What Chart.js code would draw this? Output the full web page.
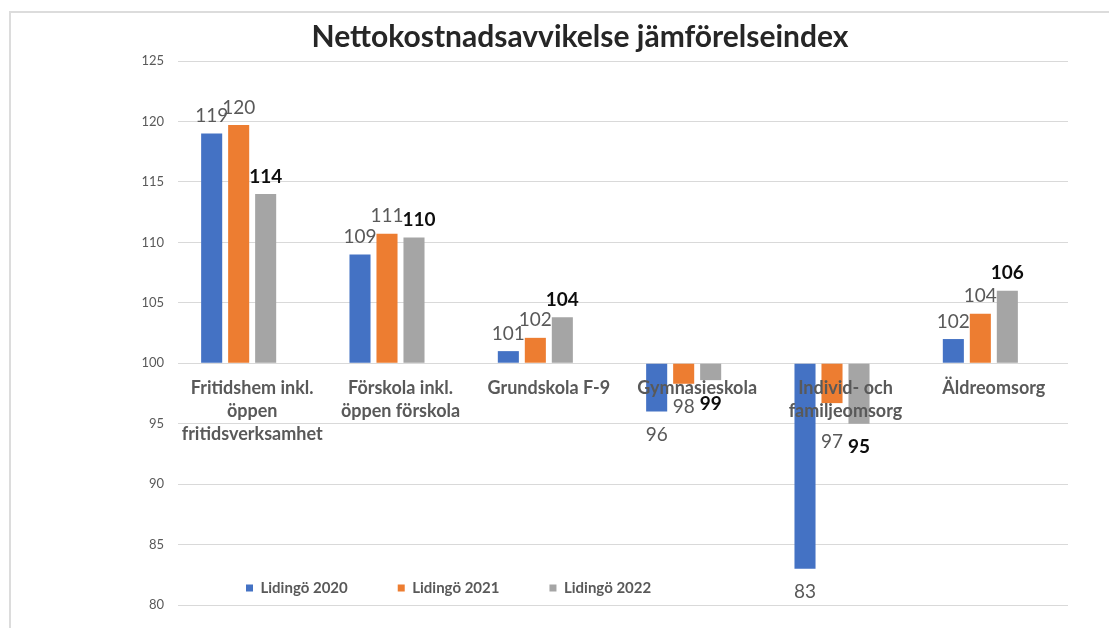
<!DOCTYPE html>
<html><head><meta charset="utf-8">
<script src="https://cdn.jsdelivr.net/npm/chart.js@4.4.1/dist/chart.umd.min.js"></script>
<style>
html,body{margin:0;padding:0;background:#fff;}
#wrap{position:relative;width:1109px;height:628px;overflow:hidden;}
#frame{position:absolute;left:9px;top:11px;right:-5px;bottom:-5px;border-left:2px solid #dcdcdc;border-top:2px solid #dcdcdc;pointer-events:none;}
canvas{position:absolute;left:0;top:0;}
</style></head><body>
<div id="wrap"><canvas id="c" width="1109" height="628"></canvas><div id="frame"></div></div>
<script>
// ---- data ----
const categories = [
  ["Fritidshem inkl.", "öppen", "fritidsverksamhet"],
  ["Förskola inkl.", "öppen förskola"],
  "Grundskola F-9",
  "Gymnasieskola",
  ["Individ- och", "familjeomsorg"],
  "Äldreomsorg"
];
const seriesNames = ["Lidingö 2020", "Lidingö 2021", "Lidingö 2022"];
const lidingo2020 = [119.0, 109.0, 101.0, 96.0, 83.0, 102.0];
const lidingo2021 = [119.7, 110.7, 102.1, 98.3, 96.7, 104.1];
const lidingo2022 = [114.0, 110.4, 103.8, 98.6, 95.0, 106.0];
const emptySeries = [null, null, null, null, null, null]; // unused 4th series slot in the original
const yTickValues = [80, 85, 90, 95, 100, 105, 110, 115, 120, 125];
const baseValue = 100;

// ---- styles ----
const FONT = "Lato";
const seriesColors = ["#4472C4", "#ED7D31", "#A5A5A5"];
const labelStyles = [
  { bold: false, color: "#595959" },
  { bold: false, color: "#595959" },
  { bold: true, color: "#0d0d0d" }
];
// manual label nudges (dataset index -> category index -> [dx, dy]) as in the original
const labelNudges = { 1: { 4: [0, 15] }, 2: { 1: [5, 0] } };

const valueLabels = {
  id: "valueLabels",
  afterDatasetsDraw(chart) {
    const ctx = chart.ctx;
    chart.data.datasets.forEach((ds, di) => {
      if (!ds.label) return;
      const st = labelStyles[di];
      const meta = chart.getDatasetMeta(di);
      meta.data.forEach((bar, i) => {
        const v = ds.data[i];
        if (v == null) return;
        const neg = v < baseValue;
        const n = (labelNudges[di] && labelNudges[di][i]) || [0, 0];
        ctx.save();
        ctx.font = (st.bold ? "bold " : "") + "19px " + FONT;
        ctx.fillStyle = st.color;
        ctx.textAlign = "center";
        ctx.textBaseline = neg ? "top" : "bottom";
        ctx.fillText(String(Math.round(v)), bar.x + n[0], bar.y + (neg ? 14 : -8) + n[1]);
        ctx.restore();
      });
    });
  }
};

const blockPlacer = {
  id: "blockPlacer",
  beforeLayout(chart) {
    const lg = chart.legend;
    if (lg && !lg._patched) {
      const orig = lg.fit.bind(lg);
      lg.fit = function () { orig(); this._realHeight = this.height; this.height = 0; };
      lg._patched = true;
    }
  },
  afterLayout(chart) {
    const lg = chart.legend;
    const pad = lg.options.labels.padding;
    const fs = lg.options.labels.font.size;
    const yc = chart.scales.y.getPixelForValue(81.4);
    const h = lg._realHeight;
    lg.top = yc - pad - fs / 2;
    lg.bottom = lg.top + h;
    lg.height = h;
    const w = lg.right - lg.left;
    lg.left = chart.chartArea.left + 68 - pad;
    lg.right = lg.left + w;
    // title centred as in the original (slightly right of the canvas centre)
    const tb = chart.titleBlock;
    if (tb) { tb.left = 51; tb.right = chart.width; tb.width = tb.right - tb.left; }
  }
};

const mk = (label, data, color) => ({
  label, data, backgroundColor: color, base: baseValue,
  categoryPercentage: 0.728, barPercentage: 0.78
});

new Chart(document.getElementById("c"), {
  type: "bar",
  data: {
    labels: categories,
    datasets: [
      mk(seriesNames[0], lidingo2020, seriesColors[0]),
      mk(seriesNames[1], lidingo2021, seriesColors[1]),
      mk(seriesNames[2], lidingo2022, seriesColors[2]),
      mk("", emptySeries, "rgba(0,0,0,0)")
    ]
  },
  options: {
    responsive: false,
    animation: false,
    events: [],
    layout: { padding: { left: 0, right: 41, top: 12, bottom: 23 } },
    scales: {
      x: {
        type: "category",
        position: { y: baseValue },
        offset: true,
        z: 1,
        grid: { display: false, drawTicks: false },
        border: { display: false },
        ticks: {
          z: 1,
          color: "#595959",
          font: { family: FONT, weight: "bold", size: 18, lineHeight: 1.28 },
          padding: 13,
          autoSkip: false,
          maxRotation: 0,
          minRotation: 0
        }
      },
      y: {
        min: 80, max: 125,
        afterBuildTicks: s => { s.ticks = yTickValues.map(v => ({ value: v })); },
        afterFit: s => { s.width = 178; },
        grid: { color: "#d9d9d9", lineWidth: 1, drawTicks: false },
        border: { display: false },
        ticks: { color: "#595959", font: { family: FONT, size: 13 }, padding: 14 }
      }
    },
    plugins: {
      title: {
        display: true,
        text: "Nettokostnadsavvikelse jämförelseindex",
        color: "#262626",
        font: { family: FONT, size: 30, weight: "bold", lineHeight: 1.2 },
        padding: { top: 7, bottom: 6 }
      },
      legend: {
        position: "bottom",
        align: "start",
        labels: {
          boxWidth: 7, boxHeight: 7, padding: 50,
          color: "#595959",
          font: { family: FONT, weight: "bold", size: 15 },
          filter: item => item.text !== ""
        }
      },
      tooltip: { enabled: false }
    }
  },
  plugins: [valueLabels, blockPlacer]
});
</script>
</body></html>
